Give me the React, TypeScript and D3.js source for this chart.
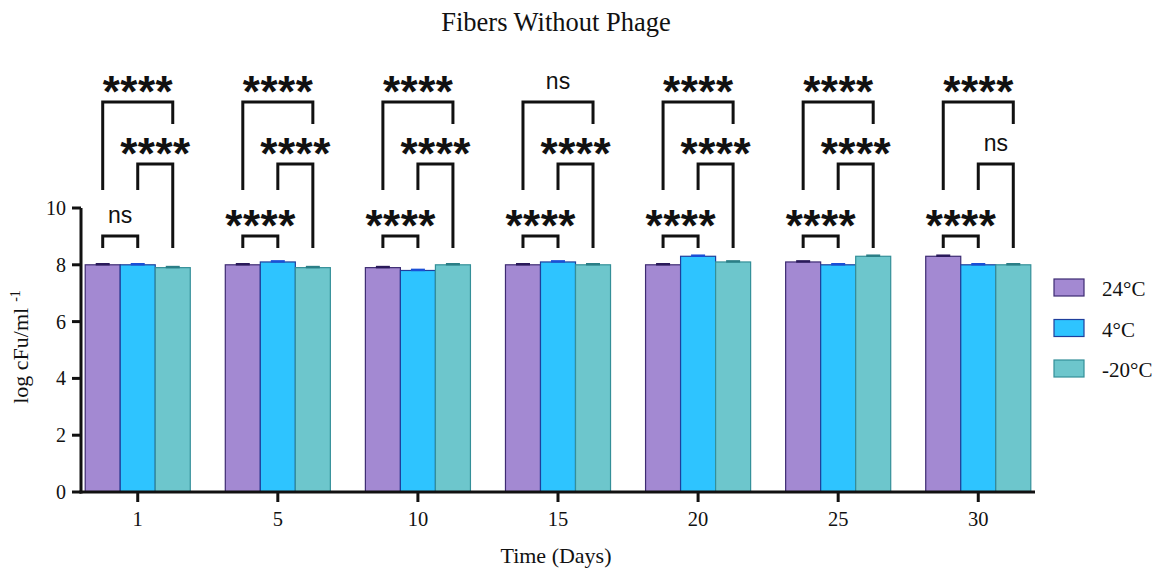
import React from "react";
import * as d3 from "d3";

// Days sampled and storage temperatures
const days = ["1", "5", "10", "15", "20", "25", "30"];
const series = ["24°C", "4°C", "-20°C"];

// Mean log CFU/ml per temperature, one value per day
const temp24 = [8.0, 8.0, 7.9, 8.0, 8.0, 8.1, 8.3];
const temp4 = [8.0, 8.1, 7.8, 8.1, 8.3, 8.0, 8.0];
const tempMinus20 = [7.9, 7.9, 8.0, 8.0, 8.1, 8.3, 8.0];
// Standard deviations (very small)
const sd24 = [0.02, 0.02, 0.02, 0.02, 0.02, 0.02, 0.02];
const sd4 = [0.02, 0.02, 0.02, 0.02, 0.02, 0.02, 0.02];
const sdMinus20 = [0.02, 0.02, 0.02, 0.02, 0.02, 0.02, 0.02];

// Significance labels per day: [24 vs 4, 4 vs -20, 24 vs -20]
const sig12 = ["ns", "****", "****", "****", "****", "****", "****"];
const sig23 = ["****", "****", "****", "****", "****", "****", "ns"];
const sig13 = ["****", "****", "****", "ns", "****", "****", "****"];

const yTicks = [0, 2, 4, 6, 8, 10];

const fills = ["#a389d2", "#2ec4ff", "#6dc6cc"];
const strokes = ["#3d2b72", "#1f3f9c", "#348f98"];
const capColors = ["#2a1a5a", "#1a4fd6", "#2b7e86"];

const W = 1166;
const H = 575;
const plot = { left: 81, right: 1035, top: 208, bottom: 492 };

export default function App() {
  const values = [temp24, temp4, tempMinus20];
  const sds = [sd24, sd4, sdMinus20];

  const x = d3
    .scaleBand<string>()
    .domain(days)
    .range([plot.left, plot.right])
    .paddingInner(0.25)
    .paddingOuter(0.03);
  const xs = d3
    .scaleBand<string>()
    .domain(series)
    .range([0, x.bandwidth()]);
  const y = d3.scaleLinear().domain([0, 10]).range([plot.bottom, plot.top]);

  const serif = "'Liberation Serif', 'Times New Roman', serif";
  const sans = "'Liberation Sans', Arial, sans-serif";

  // bracket levels (pixel rows) and leg ends
  const lv0 = 236;
  const lv1 = 164;
  const lv2 = 102;
  const legLow = 248;
  const legMid = 190;
  const legHigh = 124;

  const label = (txt: string, cx: number, by: number, key: string) =>
    txt === "ns" ? (
      <text key={key} x={cx} y={by - 13} textAnchor="middle" fontFamily={sans} fontSize={23} fill="#111">
        ns
      </text>
    ) : (
      <text
        key={key}
        x={cx}
        y={by + 5}
        textAnchor="middle"
        fontFamily={sans}
        fontWeight="bold"
        fontSize={44}
        fill="#111"
        textLength={70}
        lengthAdjust="spacing"
      >
        {txt}
      </text>
    );

  return (
    <svg width={W} height={H} style={{ display: "block", position: "absolute", left: 0, top: 0 }}>
      <rect width={W} height={H} fill="#fff" />
      <text x={556} y={31} textAnchor="middle" fontFamily={serif} fontSize={26.5} fill="#111">
        Fibers Without Phage
      </text>

      {/* bars */}
      {days.map((d, i) => (
        <g key={d}>
          {series.map((s, k) => {
            const bx = (x(d) as number) + (xs(s) as number);
            const v = values[k][i];
            return (
              <g key={s}>
                <rect
                  x={bx}
                  y={y(v)}
                  width={xs.bandwidth()}
                  height={y(0) - y(v)}
                  fill={fills[k]}
                  stroke={strokes[k]}
                  strokeWidth={1.2}
                />
                <line
                  x1={bx + xs.bandwidth() / 2 - 7}
                  x2={bx + xs.bandwidth() / 2 + 7}
                  y1={y(v + sds[k][i])}
                  y2={y(v + sds[k][i])}
                  stroke={capColors[k]}
                  strokeWidth={2.5}
                />
              </g>
            );
          })}
        </g>
      ))}

      {/* significance brackets */}
      {days.map((d, i) => {
        const c = series.map((s) => (x(d) as number) + (xs(s) as number) + xs.bandwidth() / 2);
        return (
          <g key={"b" + d} fill="none" stroke="#111" strokeWidth={3}>
            <path d={`M${c[0]},${legLow}V${lv0}H${c[1]}V${legLow}`} />
            <path d={`M${c[1]},${legMid}V${lv1}H${c[2]}V${legLow}`} />
            <path d={`M${c[0]},${legMid}V${lv2}H${c[2]}V${legHigh}`} />
            <g stroke="none">
              {label(sig12[i], (c[0] + c[1]) / 2, lv0, "l0")}
              {label(sig23[i], (c[1] + c[2]) / 2, lv1, "l1")}
              {label(sig13[i], (c[0] + c[2]) / 2, lv2, "l2")}
            </g>
          </g>
        );
      })}

      {/* y axis */}
      <line x1={plot.left} x2={plot.left} y1={y(10)} y2={y(0) + 1.5} stroke="#111" strokeWidth={3} />
      {yTicks.map((t) => (
        <g key={t}>
          <line x1={plot.left - 9} x2={plot.left} y1={y(t)} y2={y(t)} stroke="#111" strokeWidth={3} />
          <text x={plot.left - 15} y={y(t) + 7} textAnchor="end" fontFamily={serif} fontSize={20} fill="#111">
            {t}
          </text>
        </g>
      ))}

      {/* x axis */}
      <line x1={plot.left - 1.5} x2={plot.right} y1={y(0)} y2={y(0)} stroke="#111" strokeWidth={3} />
      {days.map((d) => {
        const cx = (x(d) as number) + x.bandwidth() / 2;
        return (
          <g key={"t" + d}>
            <line x1={cx} x2={cx} y1={y(0)} y2={y(0) + 10} stroke="#111" strokeWidth={3} />
            <text x={cx} y={526} textAnchor="middle" fontFamily={serif} fontSize={20.5} fill="#111">
              {d}
            </text>
          </g>
        );
      })}

      <text x={556} y={563} textAnchor="middle" fontFamily={serif} fontSize={22} fill="#111">
        Time (Days)
      </text>
      <text
        transform={`translate(28,347) rotate(-90)`}
        textAnchor="middle"
        fontFamily={serif}
        fontSize={22}
        fill="#111"
      >
        log cFu/ml
        <tspan fontSize={14} dy={-8} dx={6}>-1</tspan>
      </text>

      {/* legend */}
      {series.map((s, k) => (
        <g key={"lg" + s} transform={`translate(1054,${279 + k * 40.5})`}>
          <rect width={30} height={17} fill={fills[k]} stroke={strokes[k]} strokeWidth={1.2} />
          <text x={48} y={17} fontFamily={serif} fontSize={21} fill="#111">
            {s}
          </text>
        </g>
      ))}
    </svg>
  );
}
